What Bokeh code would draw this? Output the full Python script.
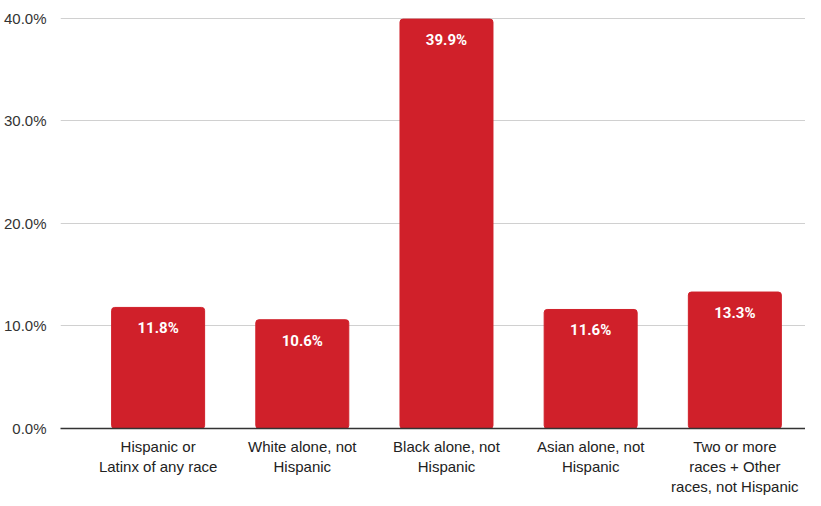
from bokeh.plotting import figure
from bokeh.models import ColumnDataSource, FixedTicker, Range1d
from bokeh.core.properties import value
from bokeh.embed import file_html
from bokeh.resources import INLINE

categories = ["Hispanic or\nLatinx of any race", "White alone, not\nHispanic",
              "Black alone, not\nHispanic", "Asian alone, not\nHispanic",
              "Two or more\nraces + Other\nraces, not Hispanic"]
values = [11.8, 10.6, 39.9, 11.6, 13.3]
labels = ["11.8%", "10.6%", "39.9%", "11.6%", "13.3%"]
y_ticks = [0, 10, 20, 30, 40]
y_tick_labels = ["0.0%", "10.0%", "20.0%", "30.0%", "40.0%"]

xs = list(range(len(categories)))
src = ColumnDataSource(dict(x=xs, top=values, label=labels))

p = figure(width=805, height=498, output_backend="svg", toolbar_location=None,
           x_range=Range1d(-0.677, 4.49), y_range=Range1d(0, 40.35),
           min_border_left=54, min_border_right=0, min_border_top=14, min_border_bottom=0)
p.outline_line_color = None
p.background_fill_color = "white"

p.vbar(x="x", top="top", width=0.645, bottom=0, source=src, color="#d0202a",
       border_radius=3)
p.text(x="x", y="top", text="label", source=src, text_color="white",
       text_font=value("Roboto"), text_font_style="bold", text_font_size="15px",
       text_align="center", text_baseline="top", y_offset=12)

p.yaxis.ticker = FixedTicker(ticks=y_ticks)
p.yaxis.major_label_overrides = {t: l for t, l in zip(y_ticks, y_tick_labels)}
p.yaxis.axis_line_color = None
p.yaxis.major_tick_line_color = None
p.yaxis.minor_tick_line_color = None
p.yaxis.major_label_text_font = "Liberation Sans"
p.yaxis.major_label_text_font_size = "15px"
p.yaxis.major_label_text_color = "#333333"
p.yaxis.major_label_standoff = 8

p.xaxis.ticker = FixedTicker(ticks=xs)
p.xaxis.major_label_overrides = {x: c for x, c in zip(xs, categories)}
p.xaxis.axis_line_color = "#333333"
p.xaxis.axis_line_width = 1.5
p.xaxis.major_tick_line_color = None
p.xaxis.minor_tick_line_color = None
p.xaxis.major_label_text_font = "Liberation Sans"
p.xaxis.major_label_text_font_size = "15px"
p.xaxis.major_label_text_color = "#222222"
p.xaxis.major_label_standoff = 3

p.xgrid.grid_line_color = None
p.ygrid.grid_line_color = "#d0d0d0"
p.ygrid.grid_line_width = 1

open("out.html", "w").write(file_html(p, INLINE))
